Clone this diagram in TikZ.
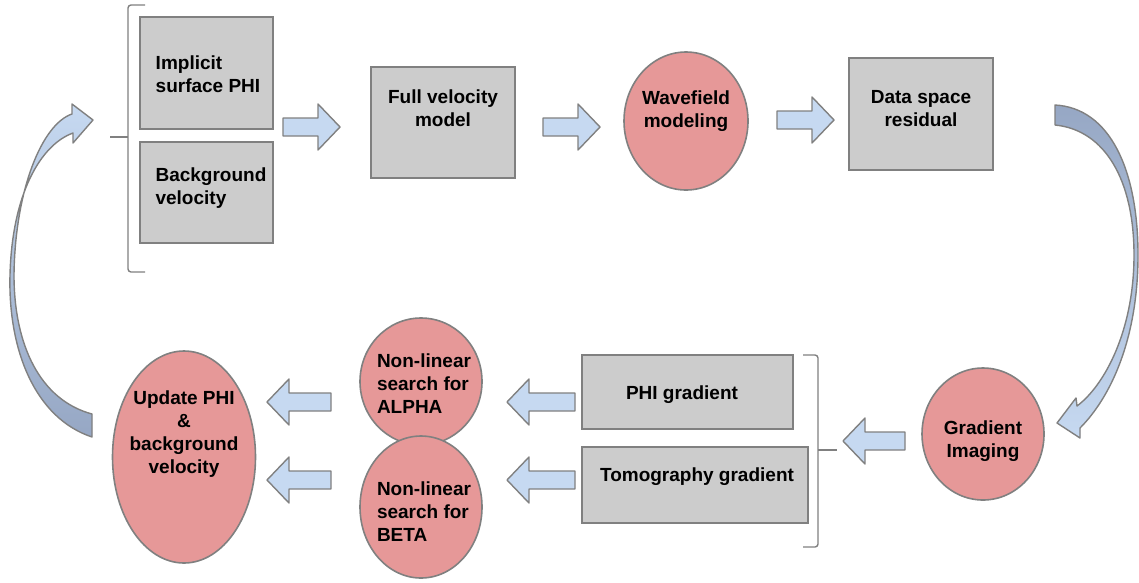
\documentclass[tikz,border=0pt]{standalone}
\usepackage{fontspec}
\setmainfont{Liberation Sans}
\usetikzlibrary{shapes.geometric}
\definecolor{boxgray}{RGB}{204,204,204}
\definecolor{edgegray}{RGB}{128,128,128}
\definecolor{stepred}{RGB}{230,152,152}
\definecolor{flowblue}{RGB}{198,217,241}
\definecolor{flowdark}{RGB}{150,167,196}

\begin{document}
\begin{tikzpicture}[
  x=1pt, y=-1pt,
  stage/.style={draw=edgegray, line width=1.6pt, fill=boxgray, inner sep=0pt},
  solver/.style={ellipse, draw=edgegray, line width=1.6pt, fill=stepred, inner sep=0pt},
  caption/.style={font=\fontsize{19}{23}\selectfont\bfseries, align=center, inner sep=0pt},
  brace/.style={draw=edgegray, line width=1.4pt, rounded corners=3pt},
  flow/.style={draw=edgegray, line width=1.4pt, fill=flowblue, line join=round},
  blockarr/.pic={\path[flow] (0,-9) -- (#1-22,-9) -- (#1-22,-23) -- (#1,0)
    -- (#1-22,23) -- (#1-22,9) -- (0,9) -- cycle;}
]
  \useasboundingbox (0,0) rectangle (1139,582);

  % Model boxes (top row)
  \node[stage, minimum width=133pt, minimum height=112pt] (imp) at (206.5,73) {};
  \node[caption, align=left] (imp-t) at (208,74) {Implicit\\surface PHI};
  \node[stage, minimum width=133pt, minimum height=101pt] (bgv) at (206.5,192.5) {};
  \node[caption, align=left] (bgv-t) at (211,188.5) {Background\\velocity};

  \node[stage, minimum width=144pt, minimum height=111pt] (fvm) at (443,122.5) {};
  \node[caption] (fvm-t) at (443,108.5) {Full velocity\\model};

  \node[solver, minimum width=124pt, minimum height=138pt] (wav) at (686,121) {};
  \node[caption] (wav-t) at (686,111.5) {Wavefield\\modeling};

  \node[stage, minimum width=144pt, minimum height=112pt] (dsr) at (921,114) {};
  \node[caption] (dsr-t) at (921,108.5) {Data space\\residual};

  % Bottom row
  \node[solver, minimum width=122pt, minimum height=132pt] (gri) at (983,434) {};
  \node[caption] (gri-t) at (983,441) {Gradient\\Imaging};

  \node[stage, minimum width=211pt, minimum height=74pt] (phig) at (687.5,392) {};
  \node[caption] (phig-t) at (682,395) {PHI gradient};
  \node[stage, minimum width=226pt, minimum height=76pt] (tomg) at (695,485) {};
  \node[caption] (tomg-t) at (697,477) {Tomography gradient};

  \node[solver, minimum width=122pt, minimum height=127pt] (alp) at (421,381.5) {};
  \node[caption, align=left] (alp-t) at (424,384) {Non-linear\\search for\\ALPHA};
  \node[solver, minimum width=122pt, minimum height=142pt] (bet) at (421,507) {};
  \node[caption, align=left] (bet-t) at (424,512) {Non-linear\\search for\\BETA};

  \node[solver, minimum width=143pt, minimum height=212pt] (upd) at (184,457) {};
  \node[caption] (upd-t) at (184,434) {Update PHI\\\&\\background\\velocity};

  % Brackets
  \path[brace] (145,5) -- (128,5) -- (128,272) -- (145,272);
  \path[brace] (128,137) -- (110,137);
  \path[brace] (803,355) -- (818,355) -- (818,547) -- (803,547);
  \path[brace] (818,450) -- (837,450);

  % Block arrows
  \pic at (283,127) {blockarr=57};
  \pic at (543,127) {blockarr=57};
  \pic at (777,120) {blockarr=57};
  \pic[rotate=180] at (905,441) {blockarr=62};
  \foreach \y in {402,480} {
    \pic[rotate=180] at (575,\y) {blockarr=68};
    \pic[rotate=180] at (331,\y) {blockarr=64};
  }

  % Curved return arrows
  \path[flow, top color=flowdark, bottom color=flowblue]
    (1055,105) .. controls (1110,108) and (1138,170) .. (1138,255)
    .. controls (1138,340) and (1110,398) .. (1080,428)
    -- (1080,438) -- (1057,423) -- (1076,398) -- (1077,406)
    .. controls (1105,385) and (1134,330) .. (1134,255)
    .. controls (1134,180) and (1105,130) .. (1055,125) -- cycle;
  \path[flow, top color=flowblue, bottom color=flowdark]
    (92,437) .. controls (35,418) and (8,350) .. (10,275)
    .. controls (12,195) and (40,145) .. (73,133)
    -- (73,143) -- (93,120) -- (72,104) -- (72,114)
    .. controls (42,124) and (15,190) .. (14,275)
    .. controls (14,345) and (40,400) .. (92,414) -- cycle;
\end{tikzpicture}
\end{document}
